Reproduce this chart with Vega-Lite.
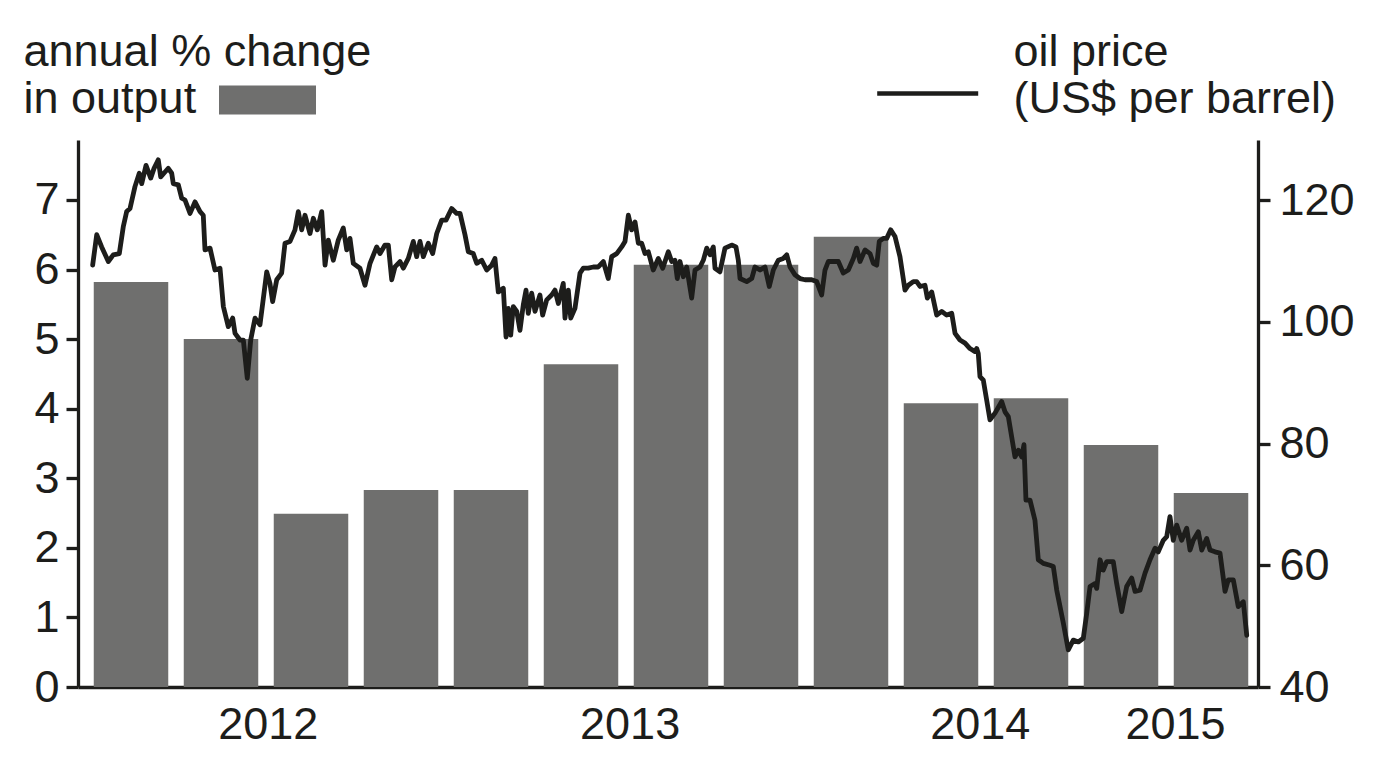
{
  "$schema": "https://vega.github.io/schema/vega-lite/v6.json",
  "width": 1180,
  "height": 547,
  "autosize": "none",
  "padding": {"left": 78, "top": 140, "right": 117, "bottom": 74},
  "background": "white",
  "config": {
    "font": "Liberation Sans",
    "view": {"stroke": null},
    "axis": {
      "grid": false,
      "labelFont": "Liberation Sans",
      "labelFontSize": 45,
      "labelColor": "#1d1d1b",
      "domainColor": "#1d1d1b",
      "domainWidth": 3.3,
      "tickColor": "#1d1d1b",
      "tickWidth": 3.3,
      "tickSize": 12,
      "labelFlush": false,
      "labelOverlap": false,
      "titleFont": "Liberation Sans",
      "titleFontSize": 45,
      "titleFontWeight": "normal",
      "titleColor": "#1d1d1b"
    }
  },
  "encoding": {
    "x": {
      "field": "q",
      "type": "quantitative",
      "scale": {"domain": [-0.0889, 13.0222], "nice": false, "zero": false, "padding": 0},
      "axis": {
        "title": null,
        "values": [2.02, 6.04, 9.93, 12.1],
        "labelExpr": "datum.value < 4 ? '2012' : datum.value < 8 ? '2013' : datum.value < 11 ? '2014' : '2015'",
        "ticks": false,
        "tickSize": 0,
        "labelPadding": 15
      }
    }
  },
  "layer": [
    {
      "data": {
        "values": [
          {"q": 0.5, "growth": 5.82},
          {"q": 1.5, "growth": 5.0},
          {"q": 2.5, "growth": 2.49},
          {"q": 3.5, "growth": 2.83},
          {"q": 4.5, "growth": 2.83},
          {"q": 5.5, "growth": 4.64},
          {"q": 6.5, "growth": 6.07},
          {"q": 7.5, "growth": 6.07},
          {"q": 8.5, "growth": 6.47},
          {"q": 9.5, "growth": 4.08},
          {"q": 10.5, "growth": 4.15},
          {"q": 11.5, "growth": 3.48},
          {"q": 12.5, "growth": 2.79}
        ]
      },
      "mark": {"type": "bar", "width": 74.5},
      "encoding": {
        "y": {
          "field": "growth",
          "type": "quantitative",
          "scale": {"domain": [0, 7.862], "nice": false},
          "axis": {
            "orient": "left",
            "values": [0, 1, 2, 3, 4, 5, 6, 7],
            "format": "d",
            "labelPadding": 7,
            "title": ["annual % change", "in output"],
            "titleAngle": 0,
            "titleAlign": "left",
            "titleBaseline": "alphabetic",
            "titleX": -55,
            "titleY": -75,
            "titleLineHeight": 47
          }
        },
        "fill": {
          "datum": "output",
          "scale": {"range": ["#6f6f6e"]},
          "legend": {
            "orient": "none",
            "legendX": 141,
            "legendY": -88.5,
            "title": null,
            "padding": 0,
            "symbolType": "M-1,-0.3L1,-0.3L1,0.3L-1,0.3Z",
            "symbolSize": 9409,
            "symbolStrokeWidth": 0,
            "symbolOpacity": 1,
            "labelExpr": "''"
          }
        }
      }
    },
    {
      "data": {
        "values": [
          {"q": 0.074, "price": 109.3}, {"q": 0.119, "price": 114.3}, {"q": 0.174, "price": 112.3},
          {"q": 0.248, "price": 109.9}, {"q": 0.303, "price": 111.0}, {"q": 0.370, "price": 111.2},
          {"q": 0.414, "price": 115.6}, {"q": 0.452, "price": 118.1}, {"q": 0.489, "price": 118.6},
          {"q": 0.544, "price": 122.2}, {"q": 0.592, "price": 124.4}, {"q": 0.619, "price": 122.7},
          {"q": 0.667, "price": 125.7}, {"q": 0.719, "price": 123.6}, {"q": 0.756, "price": 125.2},
          {"q": 0.803, "price": 126.6}, {"q": 0.830, "price": 123.8}, {"q": 0.878, "price": 124.6},
          {"q": 0.914, "price": 125.2}, {"q": 0.952, "price": 124.4}, {"q": 0.970, "price": 122.7},
          {"q": 1.026, "price": 122.5}, {"q": 1.063, "price": 120.3}, {"q": 1.100, "price": 120.0},
          {"q": 1.156, "price": 117.8}, {"q": 1.211, "price": 119.7}, {"q": 1.267, "price": 118.1},
          {"q": 1.303, "price": 117.5}, {"q": 1.322, "price": 111.8}, {"q": 1.378, "price": 112.1},
          {"q": 1.433, "price": 108.5}, {"q": 1.489, "price": 108.8}, {"q": 1.526, "price": 102.5},
          {"q": 1.581, "price": 99.2}, {"q": 1.630, "price": 100.6}, {"q": 1.656, "price": 98.1},
          {"q": 1.711, "price": 97.0}, {"q": 1.748, "price": 97.0}, {"q": 1.792, "price": 90.7},
          {"q": 1.830, "price": 97.0}, {"q": 1.878, "price": 100.6}, {"q": 1.933, "price": 99.5},
          {"q": 2.008, "price": 108.2}, {"q": 2.044, "price": 106.3}, {"q": 2.074, "price": 103.3},
          {"q": 2.119, "price": 106.9}, {"q": 2.174, "price": 108.0}, {"q": 2.211, "price": 112.9},
          {"q": 2.267, "price": 113.2}, {"q": 2.322, "price": 115.1}, {"q": 2.359, "price": 118.1},
          {"q": 2.397, "price": 115.1}, {"q": 2.433, "price": 117.5}, {"q": 2.489, "price": 114.5},
          {"q": 2.526, "price": 117.0}, {"q": 2.570, "price": 115.1}, {"q": 2.619, "price": 118.1},
          {"q": 2.656, "price": 109.3}, {"q": 2.692, "price": 113.4}, {"q": 2.748, "price": 110.1},
          {"q": 2.803, "price": 113.4}, {"q": 2.859, "price": 115.4}, {"q": 2.897, "price": 111.8},
          {"q": 2.933, "price": 113.7}, {"q": 2.970, "price": 109.6}, {"q": 3.044, "price": 108.8},
          {"q": 3.100, "price": 106.0}, {"q": 3.156, "price": 109.6}, {"q": 3.230, "price": 112.3},
          {"q": 3.267, "price": 111.2}, {"q": 3.322, "price": 112.6}, {"q": 3.359, "price": 112.6},
          {"q": 3.397, "price": 106.9}, {"q": 3.433, "price": 109.0}, {"q": 3.489, "price": 109.9},
          {"q": 3.526, "price": 108.8}, {"q": 3.581, "price": 110.4}, {"q": 3.637, "price": 113.2},
          {"q": 3.674, "price": 110.7}, {"q": 3.711, "price": 113.2}, {"q": 3.748, "price": 110.7},
          {"q": 3.803, "price": 112.9}, {"q": 3.852, "price": 111.2}, {"q": 3.897, "price": 114.5},
          {"q": 3.952, "price": 116.7}, {"q": 4.000, "price": 116.7}, {"q": 4.063, "price": 118.6},
          {"q": 4.119, "price": 117.8}, {"q": 4.156, "price": 117.8}, {"q": 4.211, "price": 114.3},
          {"q": 4.248, "price": 111.5}, {"q": 4.303, "price": 111.2}, {"q": 4.341, "price": 109.6},
          {"q": 4.397, "price": 110.1}, {"q": 4.452, "price": 108.5}, {"q": 4.508, "price": 109.3},
          {"q": 4.544, "price": 110.4}, {"q": 4.581, "price": 104.9}, {"q": 4.637, "price": 105.5},
          {"q": 4.667, "price": 97.5}, {"q": 4.692, "price": 102.2}, {"q": 4.719, "price": 97.8},
          {"q": 4.748, "price": 102.5}, {"q": 4.786, "price": 101.7}, {"q": 4.822, "price": 98.6},
          {"q": 4.859, "price": 102.8}, {"q": 4.889, "price": 105.2}, {"q": 4.914, "price": 101.4},
          {"q": 4.952, "price": 104.7}, {"q": 4.989, "price": 101.7}, {"q": 5.044, "price": 104.4},
          {"q": 5.074, "price": 101.1}, {"q": 5.119, "price": 103.6}, {"q": 5.174, "price": 104.4},
          {"q": 5.211, "price": 105.2}, {"q": 5.248, "price": 103.0}, {"q": 5.303, "price": 106.3},
          {"q": 5.322, "price": 100.6}, {"q": 5.359, "price": 105.2}, {"q": 5.386, "price": 100.6},
          {"q": 5.433, "price": 102.2}, {"q": 5.489, "price": 108.0}, {"q": 5.526, "price": 108.8},
          {"q": 5.581, "price": 108.8}, {"q": 5.637, "price": 109.0}, {"q": 5.692, "price": 109.0},
          {"q": 5.748, "price": 109.9}, {"q": 5.803, "price": 107.1}, {"q": 5.841, "price": 110.7},
          {"q": 5.897, "price": 111.2}, {"q": 5.952, "price": 112.3}, {"q": 5.989, "price": 113.2},
          {"q": 6.026, "price": 117.5}, {"q": 6.063, "price": 115.1}, {"q": 6.100, "price": 116.4},
          {"q": 6.137, "price": 112.9}, {"q": 6.174, "price": 112.9}, {"q": 6.211, "price": 111.2},
          {"q": 6.248, "price": 111.5}, {"q": 6.303, "price": 108.5}, {"q": 6.359, "price": 110.4},
          {"q": 6.408, "price": 108.8}, {"q": 6.470, "price": 111.5}, {"q": 6.508, "price": 109.9},
          {"q": 6.544, "price": 110.1}, {"q": 6.570, "price": 107.1}, {"q": 6.600, "price": 109.9},
          {"q": 6.637, "price": 107.4}, {"q": 6.674, "price": 109.0}, {"q": 6.730, "price": 103.9},
          {"q": 6.767, "price": 108.5}, {"q": 6.822, "price": 109.0}, {"q": 6.859, "price": 110.1},
          {"q": 6.897, "price": 112.1}, {"q": 6.933, "price": 111.0}, {"q": 6.970, "price": 112.3},
          {"q": 6.989, "price": 108.8}, {"q": 7.044, "price": 108.2}, {"q": 7.100, "price": 112.1},
          {"q": 7.174, "price": 112.6}, {"q": 7.222, "price": 112.3}, {"q": 7.248, "price": 110.1},
          {"q": 7.267, "price": 107.1}, {"q": 7.341, "price": 106.6}, {"q": 7.397, "price": 107.1},
          {"q": 7.433, "price": 109.0}, {"q": 7.489, "price": 108.5}, {"q": 7.544, "price": 109.0},
          {"q": 7.592, "price": 105.8}, {"q": 7.637, "price": 108.5}, {"q": 7.692, "price": 110.1},
          {"q": 7.748, "price": 110.4}, {"q": 7.786, "price": 111.0}, {"q": 7.822, "price": 109.0},
          {"q": 7.878, "price": 107.7}, {"q": 7.933, "price": 107.1}, {"q": 7.989, "price": 106.9},
          {"q": 8.063, "price": 106.9}, {"q": 8.119, "price": 106.6}, {"q": 8.174, "price": 104.4},
          {"q": 8.211, "price": 108.5}, {"q": 8.248, "price": 109.9}, {"q": 8.303, "price": 109.9},
          {"q": 8.359, "price": 109.9}, {"q": 8.414, "price": 108.0}, {"q": 8.470, "price": 108.5},
          {"q": 8.526, "price": 110.4}, {"q": 8.563, "price": 112.1}, {"q": 8.600, "price": 109.9},
          {"q": 8.656, "price": 111.8}, {"q": 8.711, "price": 111.2}, {"q": 8.748, "price": 109.6},
          {"q": 8.786, "price": 109.3}, {"q": 8.814, "price": 113.2}, {"q": 8.859, "price": 113.7},
          {"q": 8.897, "price": 113.7}, {"q": 8.941, "price": 115.1}, {"q": 8.989, "price": 114.0},
          {"q": 9.044, "price": 110.7}, {"q": 9.100, "price": 105.2}, {"q": 9.137, "price": 106.0},
          {"q": 9.192, "price": 106.6}, {"q": 9.230, "price": 106.6}, {"q": 9.267, "price": 105.8},
          {"q": 9.322, "price": 106.0}, {"q": 9.348, "price": 103.9}, {"q": 9.397, "price": 104.9},
          {"q": 9.452, "price": 101.1}, {"q": 9.508, "price": 101.7}, {"q": 9.563, "price": 101.1},
          {"q": 9.619, "price": 101.4}, {"q": 9.656, "price": 98.1}, {"q": 9.711, "price": 97.0},
          {"q": 9.767, "price": 96.5}, {"q": 9.822, "price": 95.6}, {"q": 9.878, "price": 95.1},
          {"q": 9.897, "price": 95.6}, {"q": 9.914, "price": 94.8}, {"q": 9.933, "price": 91.0},
          {"q": 9.970, "price": 90.4}, {"q": 10.008, "price": 87.1}, {"q": 10.044, "price": 83.9},
          {"q": 10.100, "price": 85.0}, {"q": 10.174, "price": 86.9}, {"q": 10.211, "price": 85.2},
          {"q": 10.248, "price": 84.4}, {"q": 10.322, "price": 77.8}, {"q": 10.359, "price": 78.9},
          {"q": 10.397, "price": 77.8}, {"q": 10.422, "price": 79.8}, {"q": 10.444, "price": 70.7},
          {"q": 10.489, "price": 70.7}, {"q": 10.544, "price": 67.4}, {"q": 10.581, "price": 60.9},
          {"q": 10.637, "price": 60.3}, {"q": 10.711, "price": 60.0}, {"q": 10.748, "price": 59.8},
          {"q": 10.786, "price": 55.9}, {"q": 10.859, "price": 50.5}, {"q": 10.914, "price": 46.1},
          {"q": 10.970, "price": 47.7}, {"q": 11.026, "price": 47.4}, {"q": 11.081, "price": 48.0},
          {"q": 11.119, "price": 52.1}, {"q": 11.156, "price": 56.5}, {"q": 11.211, "price": 57.0},
          {"q": 11.230, "price": 56.2}, {"q": 11.267, "price": 60.9}, {"q": 11.303, "price": 59.2},
          {"q": 11.341, "price": 60.6}, {"q": 11.414, "price": 60.6}, {"q": 11.452, "price": 57.0},
          {"q": 11.508, "price": 52.4}, {"q": 11.563, "price": 56.5}, {"q": 11.619, "price": 57.9},
          {"q": 11.656, "price": 55.7}, {"q": 11.711, "price": 55.9}, {"q": 11.767, "price": 58.7},
          {"q": 11.822, "price": 60.9}, {"q": 11.878, "price": 62.8}, {"q": 11.914, "price": 62.2},
          {"q": 11.970, "price": 64.1}, {"q": 12.008, "price": 64.7}, {"q": 12.044, "price": 68.0},
          {"q": 12.081, "price": 64.1}, {"q": 12.119, "price": 66.6}, {"q": 12.174, "price": 64.1},
          {"q": 12.230, "price": 66.1}, {"q": 12.267, "price": 62.5}, {"q": 12.303, "price": 64.1},
          {"q": 12.359, "price": 65.5}, {"q": 12.397, "price": 62.5}, {"q": 12.452, "price": 64.4},
          {"q": 12.489, "price": 62.5}, {"q": 12.544, "price": 62.2}, {"q": 12.600, "price": 62.0},
          {"q": 12.656, "price": 55.7}, {"q": 12.692, "price": 57.6}, {"q": 12.748, "price": 57.6},
          {"q": 12.803, "price": 53.2}, {"q": 12.859, "price": 54.0}, {"q": 12.897, "price": 48.5}
        ]
      },
      "mark": {"type": "line", "strokeWidth": 4.8, "strokeJoin": "round", "strokeCap": "round"},
      "encoding": {
        "y": {
          "field": "price",
          "type": "quantitative",
          "scale": {"domain": [40, 129.86], "nice": false, "zero": false},
          "axis": {
            "orient": "right",
            "values": [40, 60, 80, 100, 120],
            "format": "d",
            "labelPadding": 9,
            "title": ["oil price", "(US$ per barrel)"],
            "titleAngle": 0,
            "titleAlign": "left",
            "titleBaseline": "alphabetic",
            "titleX": -245,
            "titleY": -75,
            "titleLineHeight": 47
          }
        },
        "stroke": {
          "datum": "oil",
          "scale": {"range": ["#1d1d1b"]},
          "legend": {
            "orient": "none",
            "legendX": 796.7,
            "legendY": -99.5,
            "title": null,
            "padding": 0,
            "symbolType": "stroke",
            "symbolSize": 10201,
            "symbolStrokeWidth": 4.5,
            "labelExpr": "''"
          }
        }
      }
    }
  ],
  "resolve": {"scale": {"y": "independent"}}
}
